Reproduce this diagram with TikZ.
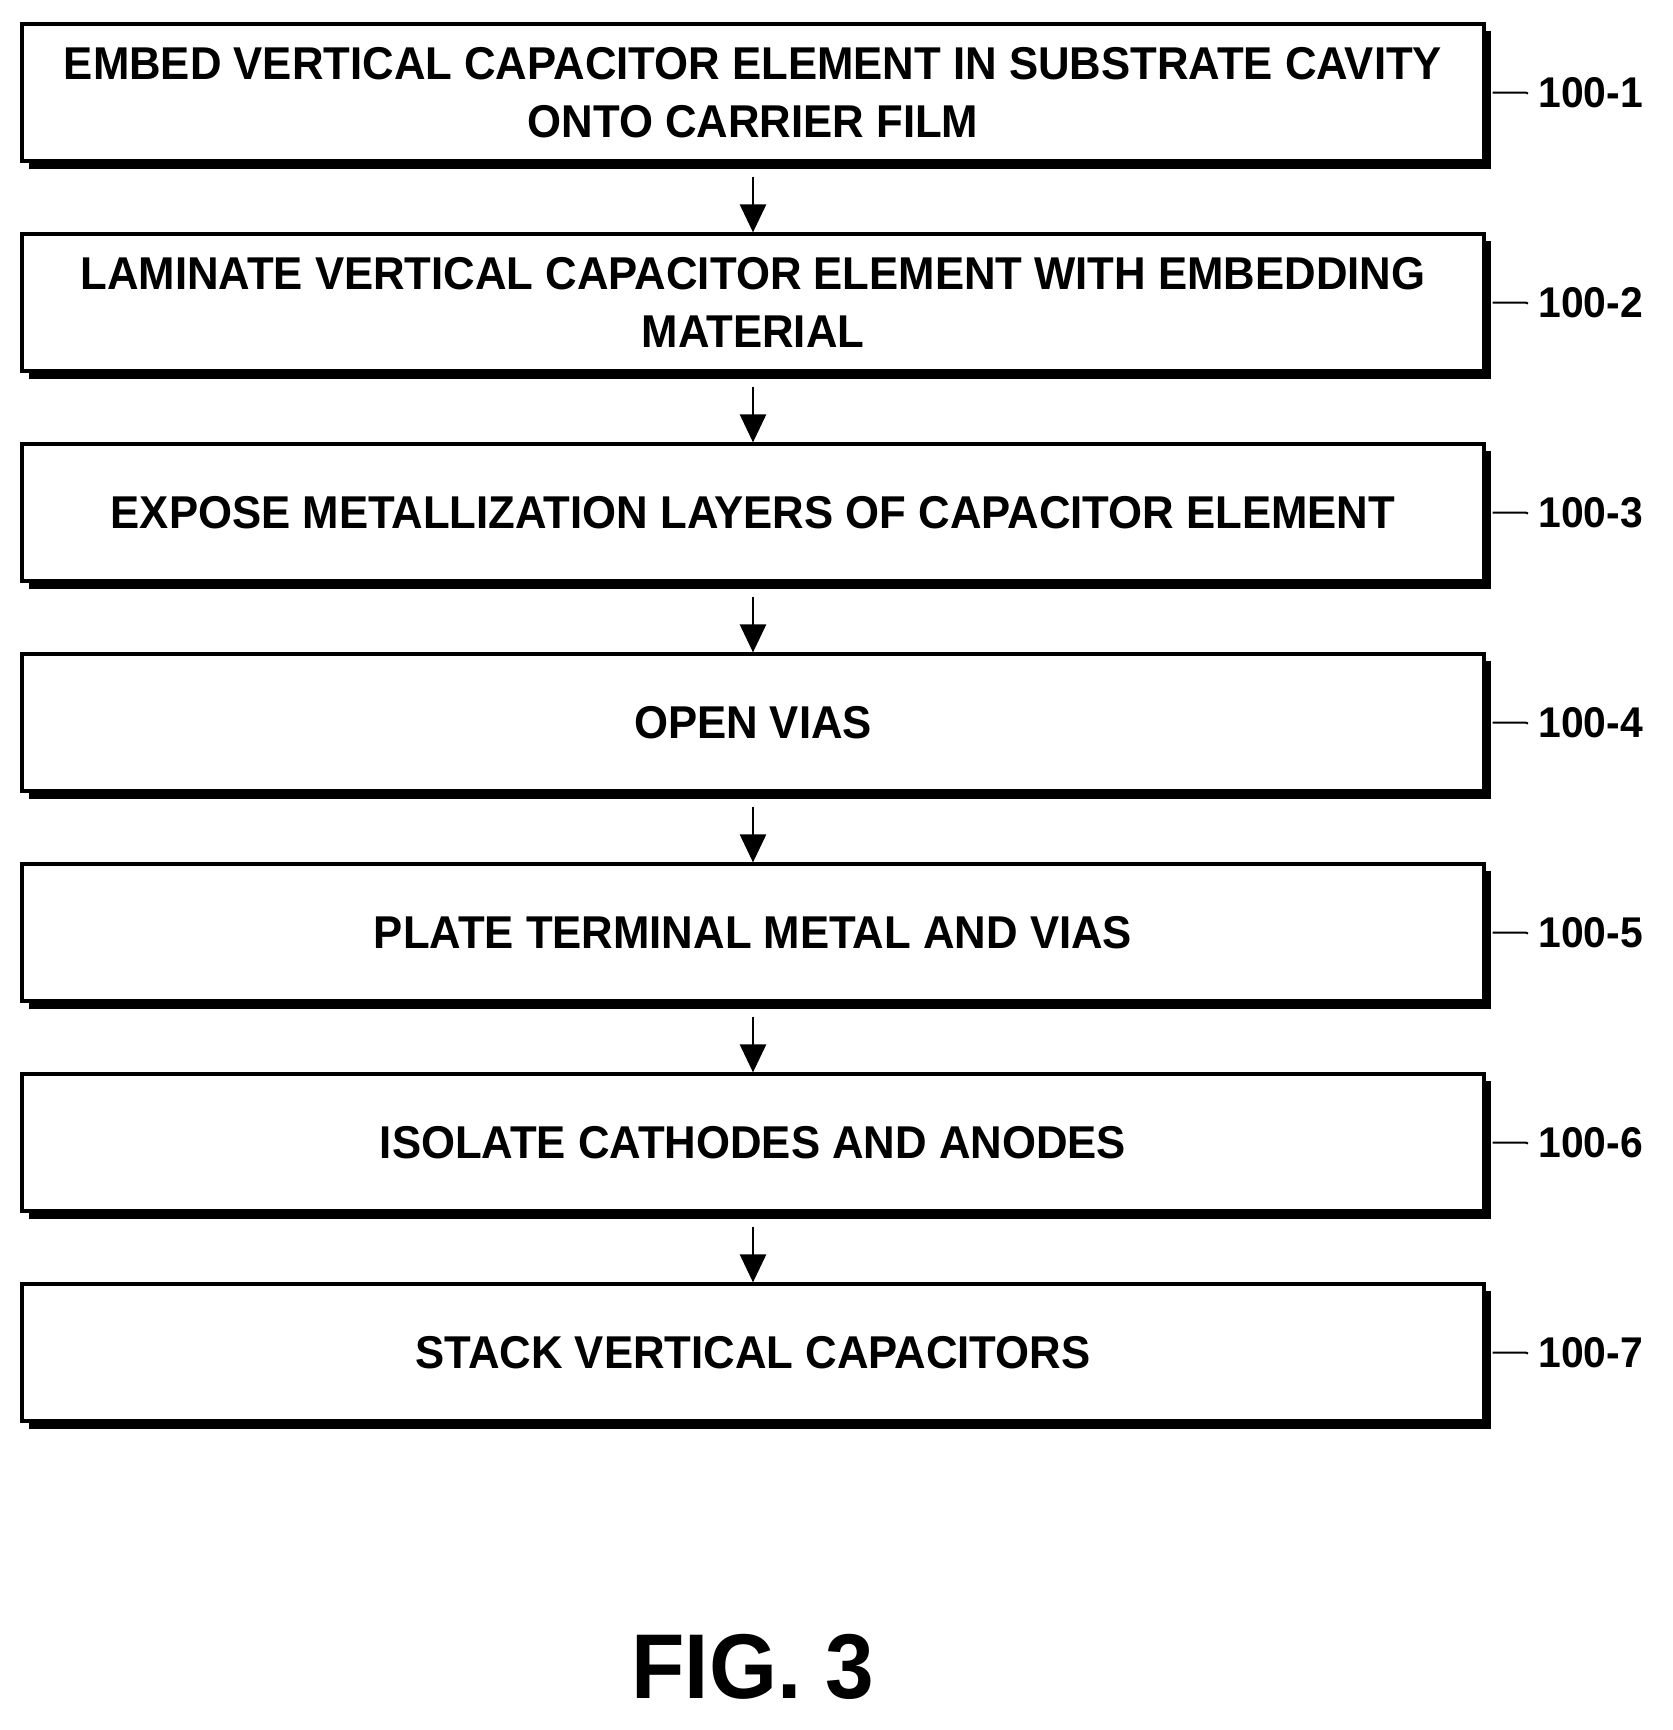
\documentclass[tikz,border=0pt]{standalone}
\usepackage{fontspec}
\setmainfont[FakeStretch=0.95]{Liberation Sans}
\usetikzlibrary{arrows.meta}
\begin{document}
\begin{tikzpicture}[x=0.5pt,y=-0.5pt,
  stepbox/.style={draw=black,line width=1.6pt,fill=white,minimum width=731pt,minimum height=68.5pt,
    align=center,font=\fontsize{23}{29}\selectfont\bfseries,inner sep=0pt},
  shadow/.style={fill=black},
  arr/.style={line width=1.3pt,-{Triangle[length=14pt,width=13pt]}},
  lab/.style={font=\fontsize{21.5}{25}\selectfont\bfseries,anchor=west,inner sep=0pt},
  lead/.style={line width=1pt}]
\useasboundingbox (0,0) rectangle (1672,1730);
\foreach \i/\t in {1/{EMBED VERTICAL CAPACITOR ELEMENT IN SUBSTRATE CAVITY\\ONTO CARRIER FILM},
  2/{LAMINATE VERTICAL CAPACITOR ELEMENT WITH EMBEDDING\\MATERIAL},
  3/{EXPOSE METALLIZATION LAYERS OF CAPACITOR ELEMENT},
  4/{OPEN VIAS},5/{PLATE TERMINAL METAL AND VIAS},
  6/{ISOLATE CATHODES AND ANODES},7/{STACK VERTICAL CAPACITORS}}{
  \pgfmathsetmacro{\yc}{24+68.5+210*(\i-1)}
  \fill[shadow] (29,\yc-61.5) rectangle (1491,\yc+76.5);
  \node[stepbox] (s\i) at (753,\yc) {\t};
  \coordinate (l\i) at (1528,\yc+1);
  \draw[lead] (s\i.east) ++(7,0) -- ++(33,0) to[out=0,in=190] (l\i);
  \node[lab] (t\i) at (1538,\yc) {100-\i};
}
\foreach \a/\b in {1/2,2/3,3/4,4/5,5/6,6/7}{
  \draw[arr] ([yshift=-7pt]s\a.south) -- (s\b.north);
}
\node[font=\fontsize{46}{50}\selectfont\bfseries] (fig) at (753,1667) {FIG. 3};
\end{tikzpicture}
\end{document}
